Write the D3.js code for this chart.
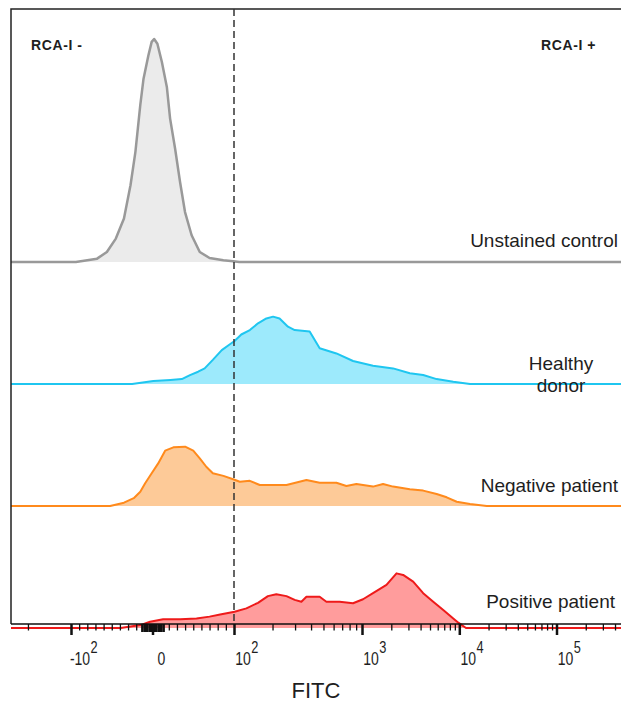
<!DOCTYPE html>
<html>
<head>
<meta charset="utf-8">
<script src="https://cdn.jsdelivr.net/npm/d3@7"></script>
<style>
  body { margin: 0; background: #fff; }
  svg { display: block; }
  text { font-family: "Liberation Sans", Arial, sans-serif; fill: #1e1e1e; }
</style>
</head>
<body>
<script>
'use strict';

{
	// samples, top to bottom
	let samples = ["Unstained control", "Healthy donor", "Negative patient", "Positive patient"];

	// histograms: [FITC intensity, count (% of unstained mode)]
	let unstained = [[-94,0],[-68,1.5],[-56,4.5],[-45,10.5],[-35,19.5],[-27,34.4],[-21,49.3],[-15,70.3],[-11,82.2],[-5,92.7],[-1,98.7],[2,100],[6,97.9],[11.5,89.7],[17.6,78.5],[21.6,64.3],[27.7,50.9],[33.8,35.9],[39.9,22.4],[48,12],[58,4.5],[70,1.8],[87,0.8],[99,0.3],[110,0]];
	let healthy = [[-25,0],[1,1.3],[22,1.8],[36,2.2],[46,4.0],[56,5.5],[64,7.0],[74,10.8],[85,15.2],[95,17.8],[101,19.3],[114,22.2],[133,24.2],[154,27.2],[179,29.4],[202,30.2],[227,29.4],[264,25.7],[298,24.2],[390,23.5],[467,16],[631,13.7],[851,10.3],[1298,8.2],[2087,7.0],[3102,4.8],[4255,4.0],[5848,2.2],[8670,1.0],[12890,0]];
	let negative = [[-52,0],[-35,1.5],[-23,3.5],[-15,6.4],[-9,10.2],[-1,14.7],[7,19.1],[15.5,24.8],[25.6,26.3],[40,26.6],[50,24.8],[58,21.4],[66,17.6],[74,14.7],[87,13.5],[99,12],[111,10.9],[133,11.3],[159,9.4],[257,9.4],[368,11.7],[467,10.4],[631,10.4],[755,9.0],[904,9.9],[1298,8.7],[1646,9.9],[2087,8.7],[3102,7.5],[4255,6.9],[5848,5.4],[7418,3.9],[9402,1.9],[12890,0.9],[19170,0]];
	let positive = [[-39,0],[-15,1.3],[-3,2.8],[13,3.9],[34,3.9],[54,4.3],[70,5.1],[83,6.1],[101,7.3],[125,8.8],[154,11.3],[184,14.3],[214,15.1],[257,14.3],[298,12.6],[336,11.8],[368,14.0],[467,14.0],[527,11.8],[669,11.8],[851,11.1],[1024,12.9],[1298,15.6],[1784,19.3],[2263,24.5],[2647,23.8],[3356,20.8],[4255,15.6],[5396,11.8],[6841,8.1],[8670,4.3],[9775,2.4],[11720,0]];
	let histograms = [unstained, healthy, negative, positive];

	// gate between RCA-I - and RCA-I +
	let gate = 100;
	let gateLabels = ["RCA-I -", "RCA-I +"];

	// axis ticks
	let majorTicks = [-100, 0, 100, 1000, 10000, 100000];
	let majorBase = ["-10", "0", "10", "10", "10", "10"];
	let majorExp = ["2", "", "2", "3", "4", "5"];
	let minorTicks = [-200, -90, -80, -70, -60, -50, -40, -30, 30, 40, 50, 60, 70, 80, 90,
		200, 300, 400, 500, 600, 700, 800, 900,
		2000, 3000, 4000, 5000, 6000, 7000, 8000, 9000,
		20000, 30000, 40000, 50000, 60000, 70000, 80000, 90000,
		200000, 300000, 400000];
	let zeroTicks = [-13, -10, -7, -4, -2, 2, 4, 7, 10, 13];
	let axisTitle = "FITC";

	let width = 621, height = 710;
	let margin = {top: 9, left: 11, bottom: 86};
	let axisY = height - margin.bottom;

	let colors = [
		{fill: "#ebebeb", stroke: "#999999", w: 2.5},
		{fill: "#9deafc", stroke: "#1fc6f0", w: 2},
		{fill: "#fdca98", stroke: "#ff8a1c", w: 2},
		{fill: "#ff9c9c", stroke: "#ee1a1a", w: 2}
	];

	// biexponential-like display: linear between -10^2 and 10^2, log outside
	let tf = v => Math.abs(v) <= 100 ? v / 100 : Math.sign(v) * (1 + Math.log10(Math.abs(v) / 100));
	let x = d3.scaleLinear()
		.domain([-2, -1, 0, 1, 2, 3, 4])
		.range([-72, 71, 152.5, 234, 362, 459.3, 556.5]);
	let X = v => x(tf(v));
	let xMin = -400, xMax = 600000;

	let baseline = d3.scalePoint().domain(samples).range([262, 628]);
	let y = d3.scaleLinear().domain([0, 100]).range([0, baseline(samples[0]) - margin.top - 30]);

	let svg = d3.select("body").append("svg")
		.attr("width", width)
		.attr("height", height);

	svg.append("clipPath").attr("id", "plot-clip")
		.append("rect")
		.attr("x", margin.left).attr("y", 0)
		.attr("width", width - margin.left).attr("height", axisY + 12);

	let plot = svg.append("g").attr("clip-path", "url(#plot-clip)");

	histograms.forEach((h, i) => {
		let b = baseline(samples[i]);
		let pts = [[xMin, 0]].concat(h, [[xMax, 0]]);
		let area = d3.area()
			.x(d => X(d[0]))
			.y0(b)
			.y1(d => b - y(d[1]));
		let line = d3.line()
			.x(d => X(d[0]))
			.y(d => b - y(d[1]));
		plot.append("path")
			.attr("d", area(pts))
			.attr("fill", colors[i].fill);
		plot.append("path")
			.attr("d", line(pts))
			.attr("fill", "none")
			.attr("stroke", colors[i].stroke)
			.attr("stroke-width", colors[i].w)
			.attr("stroke-linejoin", "round");
	});

	// frame
	svg.append("path")
		.attr("d", `M${width + 2},${margin.top}H${margin.left}V${axisY}`)
		.attr("fill", "none")
		.attr("stroke", "#222")
		.attr("stroke-width", 1.5);

	// gate line
	svg.append("line")
		.attr("x1", X(gate)).attr("x2", X(gate))
		.attr("y1", margin.top).attr("y2", axisY)
		.attr("stroke", "#333")
		.attr("stroke-width", 1.5)
		.attr("stroke-dasharray", "7,4");

	// axis
	let axisG = svg.append("g").attr("transform", `translate(0,${axisY})`);

	function drawTicks(values, size, w) {
		axisG.append("g")
			.call(d3.axisBottom(x).tickValues(values.map(tf)).tickSize(size).tickFormat(""))
			.call(g => g.select(".domain").remove())
			.selectAll(".tick line")
			.attr("stroke", "#111")
			.attr("stroke-width", w);
	}
	drawTicks(minorTicks, 6.5, 1.3);
	drawTicks(zeroTicks, 8, 2.6);
	drawTicks([-20, 20], 6.5, 1.3);
	drawTicks(majorTicks, 11, 2.5);

	axisG.append("line")
		.attr("x1", margin.left).attr("x2", width)
		.attr("stroke", "#111")
		.attr("stroke-width", 1.5);

	majorTicks.forEach((v, i) => {
		let g = svg.append("g")
			.attr("transform", `translate(${X(v) + 9},${axisY + 41}) scale(0.8,1)`);
		let base = g.append("text")
			.attr("text-anchor", "middle")
			.attr("font-size", 17.5)
			.text(majorBase[i]);
		let w = base.node().getComputedTextLength();
		if (majorExp[i]) {
			g.append("text")
				.attr("x", w / 2 + 0.5)
				.attr("y", -12)
				.attr("font-size", 16)
				.text(majorExp[i]);
		}
	});

	svg.append("text")
		.attr("x", 316).attr("y", axisY + 74)
		.attr("text-anchor", "middle")
		.attr("font-size", 22)
		.text(axisTitle);

	// gate labels
	svg.append("text")
		.attr("x", 31).attr("y", 50)
		.attr("font-size", 14).attr("font-weight", "bold")
		.attr("letter-spacing", 0.6)
		.text(gateLabels[0]);
	svg.append("text")
		.attr("x", 541).attr("y", 50)
		.attr("font-size", 14).attr("font-weight", "bold")
		.attr("letter-spacing", 0.6)
		.text(gateLabels[1]);

	// sample labels
	let right = width - 3;
	let fs = 19;
	svg.append("text")
		.attr("x", right).attr("y", baseline(samples[0]) - 15)
		.attr("text-anchor", "end").attr("font-size", fs)
		.text(samples[0]);
	let hd = samples[1].split(" ");
	svg.append("text")
		.attr("x", 561).attr("y", baseline(samples[1]) - 14)
		.attr("text-anchor", "middle").attr("font-size", fs)
		.text(hd[0]);
	svg.append("text")
		.attr("x", 561).attr("y", baseline(samples[1]) + 8)
		.attr("text-anchor", "middle").attr("font-size", fs)
		.text(hd[1]);
	svg.append("text")
		.attr("x", right).attr("y", baseline(samples[2]) - 14)
		.attr("text-anchor", "end").attr("font-size", fs)
		.text(samples[2]);
	svg.append("text")
		.attr("x", right - 3).attr("y", baseline(samples[3]) - 20)
		.attr("text-anchor", "end").attr("font-size", fs)
		.text(samples[3]);
}
</script>
</body>
</html>
